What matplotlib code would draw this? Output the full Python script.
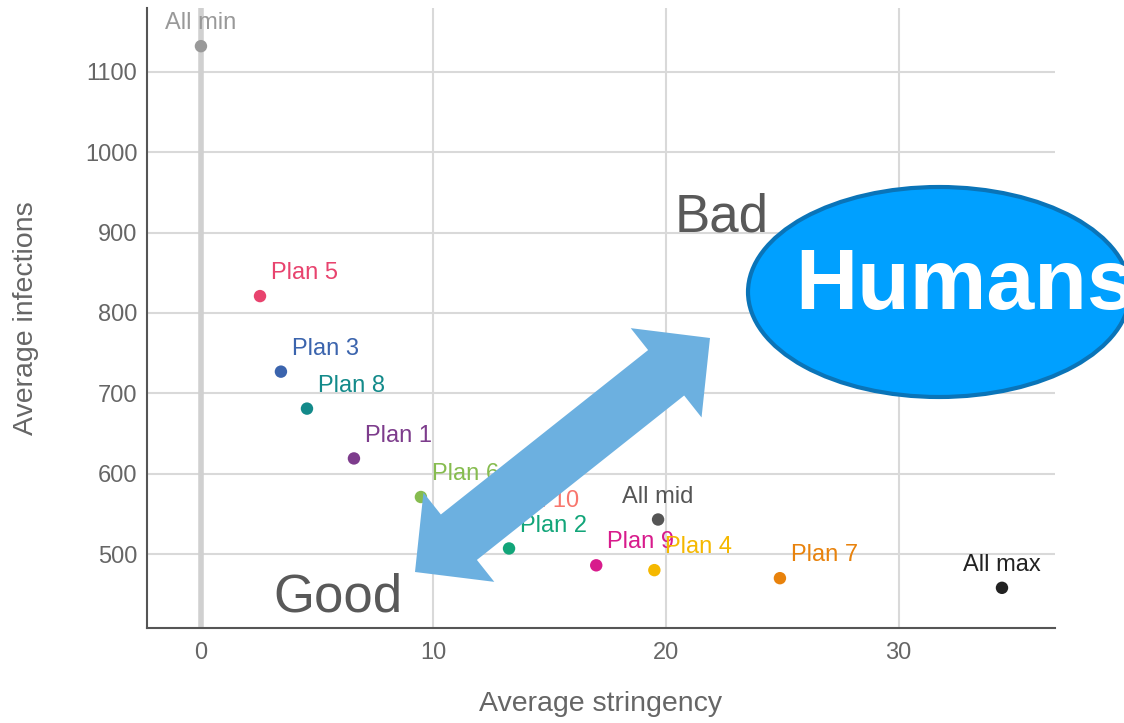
import numpy as np
import matplotlib
matplotlib.use("Agg")
import matplotlib.pyplot as plt
from matplotlib.patches import Ellipse, Polygon

plt.rcParams['font.family'] = ['Liberation Sans', 'DejaVu Sans']

# Data
names = ['All min', 'Plan 5', 'Plan 3', 'Plan 8', 'Plan 1', 'Plan 6', 'Plan 10',
         'Plan 2', 'Plan 9', 'Plan 4', 'All mid', 'Plan 7', 'All max']
stringency = [0.0, 2.54, 3.44, 4.56, 6.58, 9.46, 12.34, 13.25, 17.0, 19.5, 19.66, 24.9, 34.45]
infections = [1132, 821, 727, 681, 619, 571, 537, 507, 486, 480, 543, 470, 458]
colors = ['#999999', '#e8436e', '#3b64ad', '#138a8a', '#7d3c8c', '#86bc4f', '#f8766d',
          '#12a579', '#d81b8c', '#f5b800', '#555555', '#e8820c', '#222222']

x_ticks = [0, 10, 20, 30]
y_ticks = [500, 600, 700, 800, 900, 1000, 1100]

W, H = 1124, 723
fig = plt.figure(figsize=(W / 100, H / 100), dpi=100)
ax = fig.add_axes([147 / W, 1 - 628 / H, (1055 - 147) / W, (628 - 8) / H])

ax.set_xlim(-2.32, 36.73)
ax.set_ylim(408, 1179.5)
ax.set_xticks(x_ticks)
ax.set_yticks(y_ticks)
ax.tick_params(length=0, labelsize=17, labelcolor='#666666')
ax.tick_params(axis='x', pad=10)
ax.tick_params(axis='y', pad=7)
ax.grid(True, color='#d9d9d9', linewidth=1.5)
ax.set_axisbelow(True)
ax.axvline(0, color='#d0d0d0', linewidth=4, zorder=1)

for s in ['top', 'right']:
    ax.spines[s].set_visible(False)
for s in ['left', 'bottom']:
    ax.spines[s].set_color('#555555')
    ax.spines[s].set_linewidth(1.5)

ax.scatter(stringency, infections, s=80, c=colors, zorder=3, linewidths=0)
for name, xv, yv, col in zip(names, stringency, infections, colors):
    if name.startswith('All'):
        ax.annotate(name, (xv, yv), xytext=(0, 16.5), textcoords='offset points',
                    ha='center', va='center', fontsize=17, color=col)
    else:
        ax.annotate(name, (xv, yv), xytext=(8, 16.5), textcoords='offset points',
                    ha='left', va='center', fontsize=17, color=col)

ax.set_xlabel('Average stringency', fontsize=20.5, color='#666666')
ax.xaxis.set_label_coords(0.5, -(691 - 628) / 620)
ax.set_ylabel('Average infections', fontsize=20.5, color='#666666')
ax.yaxis.set_label_coords(-(147 - 39) / 908, 0.5)

# overlay in pixel coordinates for the slide annotations
ov = fig.add_axes([0, 0, 1, 1], zorder=5)
ov.set_xlim(0, W)
ov.set_ylim(H, 0)
ov.axis('off')
ov.patch.set_alpha(0)

p0 = np.array([415.0, 572.0])
p1 = np.array([710.0, 338.0])
u = (p1 - p0) / np.linalg.norm(p1 - p0)
n = np.array([-u[1], u[0]])
hl, hw, sw = 56, 57, 29
pts = [p0, p0 + hl * u + hw * n, p0 + hl * u + sw * n, p1 - hl * u + sw * n,
       p1 - hl * u + hw * n, p1, p1 - hl * u - hw * n, p1 - hl * u - sw * n,
       p0 + hl * u - sw * n, p0 + hl * u - hw * n]
ov.add_patch(Polygon(pts, closed=True, facecolor='#6cb0e0', edgecolor='none'))

ov.text(722, 218, 'Bad', fontsize=38, color='#595959', ha='center', va='center')
ov.text(338, 598, 'Good', fontsize=38, color='#595959', ha='center', va='center')

ov.add_patch(Ellipse((939, 292), 382, 210, facecolor='#00a0ff', edgecolor='#0a74b8',
                     linewidth=3))
ov.text(795, 287, 'Humans', fontsize=62, fontweight='bold', color='white',
        ha='left', va='center')

fig.savefig('out.png', dpi=100)
